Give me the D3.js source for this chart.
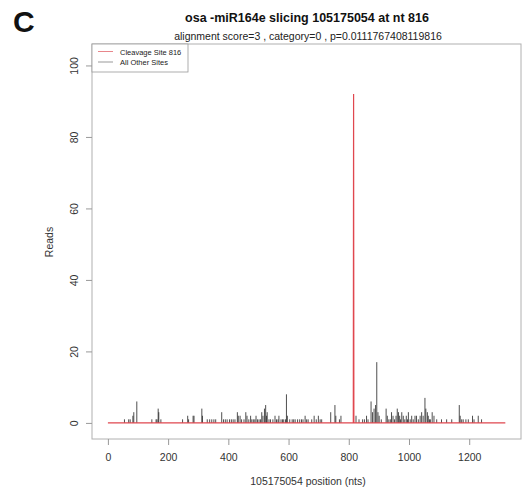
<!DOCTYPE html>
<html>
<head>
<meta charset="utf-8">
<script src="https://cdn.jsdelivr.net/npm/d3@7"></script>
<style>
  body { margin: 0; background: #fff; }
  text { font-family: "Liberation Sans", Arial, sans-serif; }
</style>
</head>
<body>
<div id="chart"></div>
<script>
// ---- data ----
// all other sites: position (nt) and read count
const otherPos = [55, 69, 74, 83, 86, 96, 146, 160, 163, 167, 169, 176, 248, 265, 268, 283, 286, 312, 314,
  330, 338, 345, 352, 358, 378, 384, 390, 396, 404, 410, 416, 422, 430, 433, 439, 444, 452, 458, 462, 468,
  474, 478, 483, 488, 492, 497, 502, 507, 511, 515, 520, 524, 527, 529, 535, 540, 548, 555, 560, 565, 568,
  575, 580, 584, 590, 593, 596, 604, 612, 617, 622, 630, 637, 643, 648, 655, 660, 665,
  677, 685, 692, 699, 705, 710, 740, 754, 757, 769, 774, 824, 834, 846, 852, 859, 864, 874, 879, 884, 889,
  893, 897, 901, 908, 924, 928, 933, 938, 942, 947, 952, 957, 961, 965, 969, 972, 976, 981, 986, 991, 995,
  998, 1004, 1009, 1014, 1020, 1025, 1031, 1037, 1042, 1047, 1053, 1056, 1061, 1064, 1068, 1071, 1077,
  1083, 1092, 1108, 1125, 1142, 1167, 1170, 1175, 1180, 1189, 1197, 1211, 1216, 1230, 1241];
const otherReads = [1, 1, 1, 2, 3, 6, 1, 1, 1, 4, 3, 1, 1, 2, 1, 2, 2, 4, 2,
  1, 1, 1, 1, 1, 3, 1, 1, 1, 1, 1, 1, 1, 3, 2, 2, 1, 1, 3, 2, 1,
  2, 1, 1, 1, 2, 1, 1, 1, 3, 2, 4, 5, 2, 3, 1, 1, 1, 2, 1, 1, 2,
  1, 1, 1, 1, 8, 2, 1, 1, 1, 1, 1, 1, 1, 1, 2, 1, 1,
  1, 2, 1, 2, 1, 1, 3, 5, 2, 1, 2, 2, 1, 1, 1, 2, 1, 6, 3, 4, 5,
  17, 3, 2, 1, 4, 2, 1, 1, 3, 2, 1, 2, 4, 3, 2, 1, 3, 2, 1, 2, 1,
  3, 1, 2, 1, 2, 2, 1, 2, 3, 2, 7, 4, 3, 2, 1, 1, 3,
  2, 1, 1, 1, 1, 5, 2, 1, 1, 1, 1, 2, 1, 2, 1];

// cleavage site series (drawn as a line)
const cleavePos = [0, 815, 816, 817, 1320];
const cleaveReads = [0, 0, 92, 0, 0];

const xTicks = [0, 200, 400, 600, 800, 1000, 1200];
const yTicks = [0, 20, 40, 60, 80, 100];

const titleText = "osa -miR164e slicing 105175054 at nt 816";
const subText = "alignment score=3 , category=0 , p=0.0111767408119816";
const legendLabels = ["Cleavage Site 816", "All Other Sites"];

// ---- layout ----
const W = 522, H = 493;
const box = { left: 92, right: 521, top: 44, bottom: 439 };

const svg = d3.select("#chart").append("svg")
  .attr("width", W).attr("height", H);

const x = d3.scaleLinear().domain([-52.8, 1372]).range([box.left, box.right]);
const y = d3.scaleLinear().domain([-4.5, 106]).range([box.bottom, box.top]);

// panel letter
svg.append("text").attr("x", 13).attr("y", 32)
  .attr("font-size", 30).attr("font-weight", "bold").attr("fill", "#111").text("C");

// titles
svg.append("text").attr("x", 307).attr("y", 22).attr("text-anchor", "middle")
  .attr("font-size", 12.5).attr("font-weight", "bold").attr("fill", "#111").text(titleText);
svg.append("text").attr("x", 308).attr("y", 40).attr("text-anchor", "middle")
  .attr("font-size", 10.5).attr("fill", "#222").text(subText);

// plot box
svg.append("rect")
  .attr("x", box.left).attr("y", box.top)
  .attr("width", box.right - box.left).attr("height", box.bottom - box.top)
  .attr("fill", "none").attr("stroke", "#b0b0b0").attr("stroke-width", 1);

// x axis
const gx = svg.append("g")
  .attr("transform", `translate(0, ${box.bottom})`)
  .call(d3.axisBottom(x).tickValues(xTicks).tickFormat(d3.format("d")).tickSize(6).tickPadding(9));
gx.select(".domain").remove();
gx.selectAll("line").attr("stroke", "#999");
gx.selectAll("text").attr("font-size", 10.5).attr("fill", "#333")
  .style("font-family", "'Liberation Sans', Arial, sans-serif");

// y axis, labels rotated like R
const gy = svg.append("g")
  .attr("transform", `translate(${box.left}, 0)`)
  .call(d3.axisLeft(y).tickValues(yTicks).tickFormat(d3.format("d")).tickSize(6));
gy.select(".domain").remove();
gy.selectAll("line").attr("stroke", "#999");
gy.selectAll("text")
  .attr("transform", "rotate(-90)")
  .attr("x", 0).attr("y", -14).attr("dy", 0)
  .attr("text-anchor", "middle")
  .attr("font-size", 10.5).attr("fill", "#333")
  .style("font-family", "'Liberation Sans', Arial, sans-serif");

// axis titles
svg.append("text").attr("x", 308).attr("y", 485).attr("text-anchor", "middle")
  .attr("font-size", 10.5).attr("fill", "#333").text("105175054 position (nts)");
svg.append("text").attr("transform", "translate(53, 242) rotate(-90)")
  .attr("text-anchor", "middle").attr("font-size", 10.5).attr("fill", "#333").text("Reads");

// all other sites as vertical bars (type "h")
const others = otherPos.map((p, i) => ({ p: p, r: otherReads[i] }));
svg.append("g").selectAll("line")
  .data(others)
  .join("line")
  .attr("x1", d => x(d.p)).attr("x2", d => x(d.p))
  .attr("y1", y(0)).attr("y2", d => y(d.r))
  .attr("stroke", "#222").attr("stroke-width", 0.8);

// cleavage site line
const cleave = cleavePos.map((p, i) => ({ p: p, r: cleaveReads[i] }));
svg.append("path")
  .datum(cleave)
  .attr("d", d3.line().x(d => x(d.p)).y(d => y(d.r)))
  .attr("fill", "none").attr("stroke", "#e0474f").attr("stroke-width", 1.2);

// legend
const lg = svg.append("g");
lg.append("rect").attr("x", box.left).attr("y", box.top).attr("width", 96).attr("height", 28)
  .attr("fill", "#fff").attr("stroke", "#999").attr("stroke-width", 0.8);
const legendColors = ["#e8868b", "#999"];
legendLabels.forEach((lab, i) => {
  const ly = 51.5 + i * 10.5;
  lg.append("line").attr("x1", 98).attr("x2", 113).attr("y1", ly).attr("y2", ly)
    .attr("stroke", legendColors[i]).attr("stroke-width", 1);
  lg.append("text").attr("x", 120).attr("y", ly + 3).attr("font-size", 7.5)
    .attr("fill", "#222").text(lab);
});
</script>
</body>
</html>
